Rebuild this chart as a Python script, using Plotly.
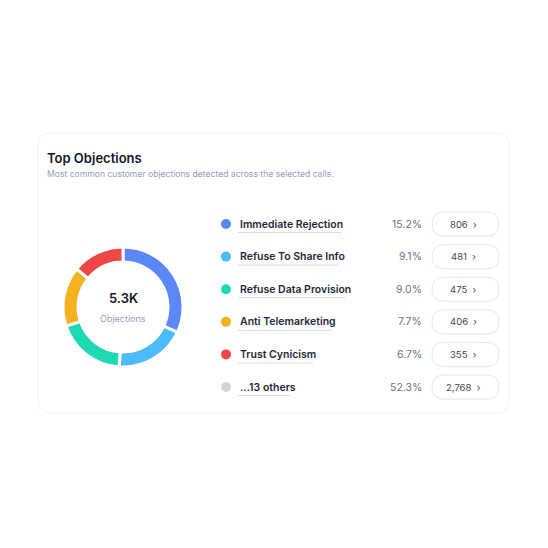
import plotly.graph_objects as go

# ---- data ----
categories = ["Immediate Rejection", "Refuse To Share Info", "Refuse Data Provision",
              "Anti Telemarketing", "Trust Cynicism", "...13 others"]
counts = [806, 481, 475, 406, 355, 2768]
percents = ["15.2%", "9.1%", "9.0%", "7.7%", "6.7%", "52.3%"]
count_labels = ["806", "481", "475", "406", "355", "2,768"]
colors = ["#5b87f9", "#4bbbfb", "#1ed9b5", "#f5b120", "#ef4646", "#d1d5db"]
total_label = "5.3K"
center_label = "Objections"
title = "Top Objections"
subtitle = "Most common customer objections detected across the selected calls."
donut_n = 5  # the donut shows the top five objections

W = H = 548
ROW0 = 224.0   # pixel of first row centre
STEP = 32.6    # pixel spacing between rows

def py(p):  # pixel (from top) -> row-axis unit
    return (p - ROW0) / STEP

def rrect(x0, x1, p0, p1, r):
    y0, y1 = py(p0), py(p1)
    ry = r / STEP
    return (f"M {x0+r},{y0} L {x1-r},{y0} Q {x1},{y0} {x1},{y0+ry} "
            f"L {x1},{y1-ry} Q {x1},{y1} {x1-r},{y1} L {x0+r},{y1} "
            f"Q {x0},{y1} {x0},{y1-ry} L {x0},{y0+ry} Q {x0},{y0} {x0+r},{y0} Z")

FONT = "Inter"
fig = go.Figure()

# donut
cx, cy, R = 123, 307, 60
fig.add_trace(go.Pie(
    values=counts[:donut_n], labels=categories[:donut_n],
    marker=dict(colors=colors[:donut_n], line=dict(color="white", width=3)),
    hole=0.75, sort=False, direction="clockwise", rotation=0,
    textinfo="none", hoverinfo="skip", showlegend=False,
    domain=dict(x=[(cx - R) / W, (cx + R) / W], y=[1 - (cy + R) / H, 1 - (cy - R) / H]),
))

rows = list(range(len(categories)))

# legend dots
fig.add_trace(go.Scatter(
    x=[226] * len(rows), y=rows, mode="markers",
    marker=dict(size=10, color=colors), hoverinfo="skip", showlegend=False,
    xaxis="x", yaxis="y"))

shapes = []
annotations = []

# card
shapes.append(dict(type="path", xref="x", yref="y", path=rrect(38, 509, 133, 413, 12),
                   line=dict(color="#f2f3f5", width=1), fillcolor="rgba(0,0,0,0)", layer="below"))

underline_ends = [341, 338, 345, 332, 313, 290]
for i in rows:
    # label
    annotations.append(dict(x=238, y=i, xref="x", yref="y", text=categories[i],
                            xanchor="left", yanchor="middle", showarrow=False,
                            font=dict(family=FONT, size=10.5, color="#1e293b", weight=600)))
    shapes.append(dict(type="line", xref="x", yref="y", x0=238, x1=underline_ends[i],
                       y0=i + 8.5 / STEP, y1=i + 8.5 / STEP, line=dict(color="#d9dde3", width=1)))
    # percent
    annotations.append(dict(x=424, y=i, xref="x", yref="y", text=percents[i],
                            xanchor="right", yanchor="middle", showarrow=False,
                            font=dict(family=FONT, size=10.5, color="#6b7280")))
    # pill
    pc = ROW0 + STEP * i
    shapes.append(dict(type="path", xref="x", yref="y", path=rrect(432, 499, pc - 11, pc + 13, 12),
                       line=dict(width=0), fillcolor="rgba(0,0,0,0.035)", layer="below"))
    shapes.append(dict(type="path", xref="x", yref="y", path=rrect(432, 499, pc - 12, pc + 12, 12),
                       line=dict(color="#e6e8ec", width=1), fillcolor="white", layer="below"))
    annotations.append(dict(x=463, y=i, xref="x", yref="y", text=f"{count_labels[i]}  ›",
                            xanchor="center", yanchor="middle", showarrow=False,
                            font=dict(family=FONT, size=9.5, color="#3f4756")))

# title & subtitle
annotations.append(dict(x=45 / W, y=1 - 158 / H, xref="paper", yref="paper", text=title,
                        xanchor="left", yanchor="middle", showarrow=False,
                        font=dict(family=FONT, size=13, color="#111827", weight=600)))
annotations.append(dict(x=45 / W, y=1 - 174.5 / H, xref="paper", yref="paper", text=subtitle,
                        xanchor="left", yanchor="middle", showarrow=False,
                        font=dict(family=FONT, size=8.6, color="#94a0ba")))
# donut centre
annotations.append(dict(x=cx / W, y=1 - 298 / H, xref="paper", yref="paper", text=total_label,
                        xanchor="center", yanchor="middle", showarrow=False,
                        font=dict(family=FONT, size=13, color="#111827", weight=600)))
annotations.append(dict(x=cx / W, y=1 - 318 / H, xref="paper", yref="paper", text=center_label,
                        xanchor="center", yanchor="middle", showarrow=False,
                        font=dict(family=FONT, size=9, color="#94a0ba")))

fig.update_layout(
    width=W, height=H, autosize=False,
    margin=dict(l=0, r=0, t=0, b=0),
    paper_bgcolor="white", plot_bgcolor="rgba(0,0,0,0)",
    xaxis=dict(range=[0, W], domain=[0, 1], visible=False, fixedrange=True),
    yaxis=dict(range=[py(H), py(0)], domain=[0, 1], visible=False, fixedrange=True),
    shapes=shapes, annotations=annotations, showlegend=False,
)

fig.write_html("out.html", config={"displayModeBar": False},
               post_script="document.body.style.margin='0';document.body.style.overflow='hidden';")
